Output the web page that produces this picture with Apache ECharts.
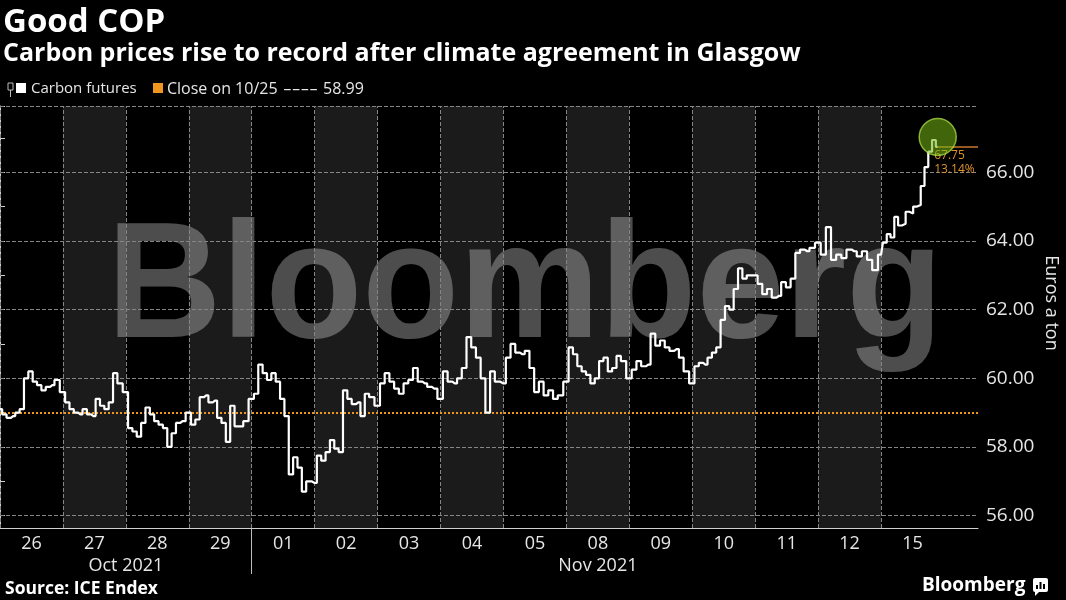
<!DOCTYPE html>
<html>
<head>
<meta charset="utf-8">
<script src="https://cdn.jsdelivr.net/npm/echarts@6/dist/echarts.min.js"></script>
<style>
  html, body { margin: 0; padding: 0; background: #000; }
  #chart { width: 1066px; height: 600px; }
</style>
</head>
<body>
<div id="chart"></div>
<script>
// day labels on the x axis, each trading day is one unit wide
const dayLabels = ['26', '27', '28', '29', '01', '02', '03', '04', '05', '08', '09', '10', '11', '12', '15']
const shadedDays = [1, 3, 5, 7, 9, 11, 13]
const monthLabels = ['Oct 2021', 'Nov 2021']
const monthCenters = [2, 9.5]
const monthBreak = 4

const yTicks = [56, 58, 60, 62, 64, 66]
const yMinorTicks = [57, 59, 61, 63, 65, 67]
const yMin = 55.64
const yMax = 67.93
const xMax = 15.54

const closeOct25 = 58.99
const lastLabel = '67.75'
const lastChange = '13.14%'

// intraday prices, euros a ton
const oct26 = [59.1, 58.95, 58.85, 58.9, 59.0, 59.1, 60.0, 60.2, 59.9, 59.8, 59.65, 59.75, 59.8, 59.95]
const oct27 = [59.6, 59.3, 59.1, 59.0, 58.95, 59.1, 58.95, 58.9, 59.4, 59.2, 59.1, 59.3, 60.15, 59.85]
const oct28 = [59.6, 58.55, 58.45, 58.3, 58.7, 59.15, 58.95, 58.75, 58.65, 58.55, 58.0, 58.4, 58.7, 58.75]
const oct29 = [59.0, 58.65, 58.8, 59.45, 59.5, 59.3, 59.35, 58.85, 58.7, 58.15, 59.2, 58.6, 58.6, 58.75]
const nov01 = [59.4, 59.55, 60.4, 60.15, 59.95, 60.15, 59.9, 59.4, 58.9, 57.2, 57.7, 57.4, 56.7, 57.0]
const nov02 = [56.95, 57.75, 57.6, 57.85, 58.2, 57.95, 57.85, 59.65, 59.4, 59.25, 59.3, 58.9, 59.55, 59.45]
const nov03 = [59.2, 59.85, 60.15, 59.9, 59.7, 59.55, 59.85, 59.95, 60.3, 59.9, 59.85, 59.75, 59.7]
const nov04 = [59.4, 60.2, 59.9, 59.85, 60.0, 60.3, 61.2, 60.9, 60.6, 60.0, 59.0, 60.2, 59.9]
const nov05 = [59.85, 60.6, 61.0, 60.75, 60.7, 60.8, 60.3, 59.6, 59.9, 59.5, 59.65, 59.4, 59.5]
const nov08 = [59.9, 60.9, 60.7, 60.35, 60.2, 60.1, 59.85, 60.0, 60.5, 60.6, 60.2, 60.3, 60.65, 60.5]
const nov09 = [60.0, 60.25, 60.5, 60.35, 60.4, 61.3, 60.95, 61.1, 60.9, 60.8, 60.85, 60.6, 60.2]
const nov10 = [59.85, 60.35, 60.45, 60.4, 60.6, 60.75, 60.9, 61.7, 62.1, 62.0, 62.6, 63.2, 62.9, 63.0]
const nov11 = [63.0, 62.75, 62.45, 62.6, 62.35, 62.4, 62.8, 62.65, 62.9, 63.65, 63.75, 63.7, 63.8]
const nov12 = [63.95, 63.6, 64.4, 63.45, 63.6, 63.5, 63.75, 63.7, 63.55, 63.7, 63.45, 63.15]
const nov15 = [63.6, 63.95, 64.2, 64.1, 64.7, 64.45, 64.5, 64.85, 64.8, 65.0, 65.05, 65.6, 66.15, 66.6, 66.94, 66.74]

const dayPrices = [oct26, oct27, oct28, oct29, nov01, nov02, nov03, nov04, nov05,
  nov08, nov09, nov10, nov11, nov12, nov15]

const FONT = "'Open Sans', sans-serif"
const TEXT = '#e6e6e6'
const ORANGE = '#f0961e'

// trading session covers ~90% of each day slot
const priceData = []
dayPrices.forEach((prices, d) => {
  prices.forEach((p, i) => {
    priceData.push([d + 0.9 * i / (prices.length - 1), p])
  })
})
const lastPoint = priceData[priceData.length - 1]
const peakValue = Math.max(...nov15)

const gridStyle = () => ({ color: '#858585', type: 'dashed', width: 1 })
const gridLines = [
  ...dayLabels.map((_, i) => ({ xAxis: i, lineStyle: gridStyle() })),
  ...yTicks.map(v => ({ yAxis: v, lineStyle: gridStyle() })),
  { yAxis: yMax, lineStyle: gridStyle() }
]

const chart = echarts.init(document.getElementById('chart'))

chart.setOption({
  backgroundColor: '#000',
  animation: false,
  grid: { left: 0, right: 88, top: 106, bottom: 72 },
  xAxis: [
    {
      type: 'value',
      min: 0,
      max: xMax,
      axisLine: { show: true, lineStyle: { color: '#d0d0d0', width: 1 } },
      axisTick: { show: false },
      splitLine: { show: false },
      axisLabel: {
        customValues: dayLabels.map((_, i) => i + 0.5),
        formatter: v => dayLabels[Math.floor(v)],
        color: TEXT,
        fontFamily: FONT,
        fontSize: 18,
        margin: 7
      }
    },
    {
      type: 'value',
      min: 0,
      max: xMax,
      position: 'bottom',
      axisLine: { show: false },
      axisTick: { show: true, customValues: [monthBreak], length: 46, lineStyle: { color: '#bdbdbd' } },
      splitLine: { show: false },
      axisLabel: {
        customValues: monthCenters,
        formatter: v => monthLabels[monthCenters.indexOf(v)],
        color: TEXT,
        fontFamily: FONT,
        fontSize: 18,
        margin: 29
      }
    }
  ],
  yAxis: {
    type: 'value',
    position: 'right',
    min: yMin,
    max: yMax,
    axisLine: { show: true, lineStyle: { color: '#d0d0d0', width: 1 } },
    axisTick: {
      show: true,
      inside: false,
      customValues: [...yTicks, ...yMinorTicks, yMax],
      length: 5,
      lineStyle: { color: '#d0d0d0' }
    },
    splitLine: { show: false },
    axisLabel: {
      customValues: yTicks,
      formatter: v => v.toFixed(2),
      color: TEXT,
      fontFamily: FONT,
      fontSize: 19,
      margin: 8
    }
  },
  graphic: [
    { type: 'text', x: 3, y: 23, z: 20, style: { text: 'Good COP', fill: '#fff', font: `bold 33px ${FONT}`, textVerticalAlign: 'middle' } },
    { type: 'text', x: 3, y: 54, z: 20, style: { text: 'Carbon prices rise to record after climate agreement in Glasgow', fill: '#fff', font: `bold 25px ${FONT}`, textVerticalAlign: 'middle' } },
    // legend
    { type: 'rect', z: 20, shape: { x: 8, y: 83, width: 5, height: 7 }, style: { fill: 'none', stroke: '#bbb', lineWidth: 1 } },
    { type: 'line', z: 20, shape: { x1: 10.5, y1: 90, x2: 10.5, y2: 97 }, style: { stroke: '#bbb', lineWidth: 1 } },
    { type: 'rect', z: 20, shape: { x: 16, y: 83, width: 10, height: 10 }, style: { fill: '#fff' } },
    { type: 'text', x: 31, y: 89, z: 20, style: { text: 'Carbon futures', fill: TEXT, font: `15px ${FONT}`, textVerticalAlign: 'middle' } },
    { type: 'rect', z: 20, shape: { x: 153, y: 83, width: 10, height: 10 }, style: { fill: ORANGE } },
    { type: 'text', x: 167, y: 89, z: 20, style: { text: 'Close on 10/25', fill: TEXT, font: `16px ${FONT}`, textVerticalAlign: 'middle' } },
    { type: 'text', x: 283, y: 89, z: 20, scaleX: 1.7, style: { text: '----', fill: TEXT, font: `16px ${FONT}`, textVerticalAlign: 'middle' } },
    { type: 'text', x: 323, y: 89, z: 20, style: { text: closeOct25.toFixed(2), fill: TEXT, font: `16px ${FONT}`, textVerticalAlign: 'middle' } },
    // watermark
    { type: 'text', x: 107, y: 291, z: 5, scaleX: 0.96, silent: true, style: { text: 'Bloomberg', fill: 'rgba(255,255,255,0.3)', font: "bold 165px 'Liberation Sans', sans-serif", textVerticalAlign: 'middle' } },
    // axis name
    { type: 'text', x: 1051, y: 303, rotation: -Math.PI / 2, z: 20, style: { text: 'Euros a ton', fill: TEXT, font: `18px ${FONT}`, textAlign: 'center', textVerticalAlign: 'middle' } },
    // footer
    { type: 'text', x: 5, y: 589, z: 20, style: { text: 'Source: ICE Endex', fill: '#fff', font: `bold 17.5px ${FONT}`, textVerticalAlign: 'middle' } },
    { type: 'text', x: 922, y: 586, z: 20, style: { text: 'Bloomberg', fill: '#fff', font: `bold 19px ${FONT}`, textVerticalAlign: 'middle' } },
    { type: 'rect', z: 20, shape: { x: 1033, y: 578, width: 15, height: 14, r: 2 }, style: { fill: '#fff' } },
    { type: 'polygon', z: 20, shape: { points: [[1035, 591], [1040, 591], [1035, 596]] }, style: { fill: '#fff' } },
    { type: 'rect', z: 21, shape: { x: 1036, y: 585, width: 2, height: 4 }, style: { fill: '#000' } },
    { type: 'rect', z: 21, shape: { x: 1039.5, y: 582, width: 2, height: 7 }, style: { fill: '#000' } },
    { type: 'rect', z: 21, shape: { x: 1043, y: 584, width: 2, height: 5 }, style: { fill: '#000' } }
  ],
  series: [
    {
      // alternating day bands
      type: 'line',
      data: [],
      z: 1,
      silent: true,
      markArea: {
        silent: true,
        itemStyle: { color: '#1b1b1b' },
        data: shadedDays.map(d => [{ xAxis: d }, { xAxis: d + 1 }])
      }
    },
    {
      name: 'Carbon futures',
      type: 'line',
      data: priceData,
      step: 'middle',
      symbol: 'none',
      z: 10,
      lineStyle: { color: '#fff', width: 2.2 },
      markLine: {
        silent: true,
        symbol: 'none',
        label: { show: false },
        data: [
          ...gridLines,
          { yAxis: closeOct25, lineStyle: { color: ORANGE, type: [2, 2], width: 2 } },
          [
            { coord: [lastPoint[0], lastPoint[1]], lineStyle: { color: '#c8782a', type: 'solid', width: 1.5 } },
            { coord: [xMax, lastPoint[1]] }
          ]
        ]
      },
      markPoint: {
        silent: true,
        symbol: 'rect',
        symbolSize: 1,
        itemStyle: { color: 'rgba(0,0,0,0)' },
        label: {
          show: true,
          position: [-3, 2],
          align: 'left',
          verticalAlign: 'top',
          formatter: lastLabel + '\n' + lastChange,
          color: '#e0902a',
          fontFamily: FONT,
          fontSize: 12,
          lineHeight: 14
        },
        data: [{ coord: [lastPoint[0], lastPoint[1]] }]
      }
    },
    {
      type: 'scatter',
      z: 12,
      silent: true,
      symbolSize: 37,
      symbolOffset: [0, -3],
      itemStyle: { color: 'rgba(115,180,20,0.7)', borderColor: 'rgba(180,230,70,0.9)', borderWidth: 1.5 },
      data: [[lastPoint[0], peakValue]]
    }
  ]
})
</script>
</body>
</html>
